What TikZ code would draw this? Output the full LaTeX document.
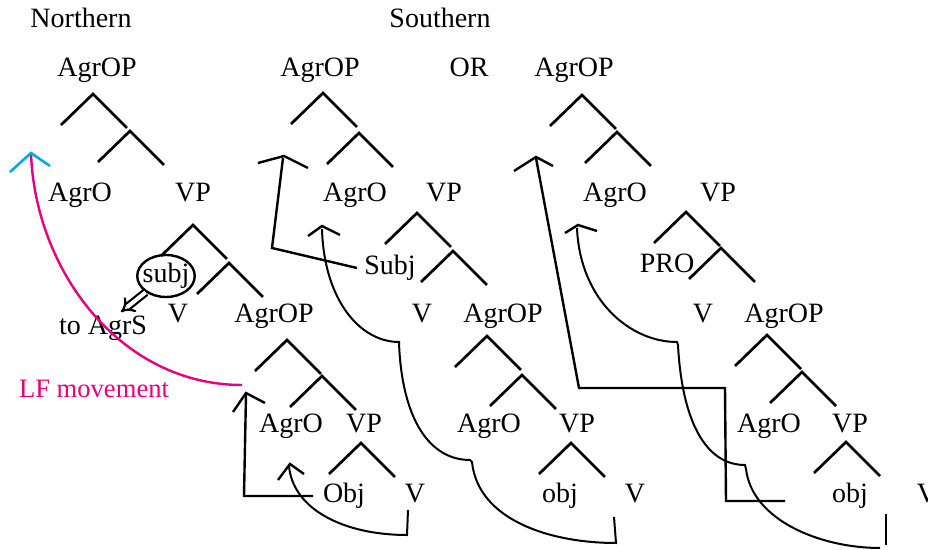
\documentclass[tikz,border=0pt]{standalone}
\usepackage{fontspec}
\setmainfont{Liberation Serif}
\usetikzlibrary{shapes.geometric,arrows.meta}

\definecolor{lfpink}{RGB}{230,0,126}
\definecolor{lfcyan}{RGB}{0,170,230}

\tikzset{
  lbl/.style={anchor=base, inner sep=0pt, font=\fontsize{14}{16}\selectfont},
  branch/.style={line width=1.35pt},
  mv/.style={line width=1.2pt},
  arc/.style={line width=1pt},
}

\begin{document}
\begin{tikzpicture}[x=0.5pt, y=-0.5pt]
    \useasboundingbox (0,0) rectangle (928,550);

    % Judul
    \node[lbl] (north) at (81,28) {Northern};
    \node[lbl] (south) at (440,28) {Southern};
    \node[lbl] (or) at (469,77) {OR};

    % Cabang pohon (puncak, kaki kiri, kaki kanan)
    \foreach \x/\y in {93/94, 130/131, 193/225, 229/263, 287/340, 322/376, 361/443,
                       323/93, 359/133, 417/213, 453/251, 487/336, 522/375, 571/443,
                       582/95, 617/132, 686/212, 721/248, 767/335, 802/372, 846/442} {
        \draw[branch] (\x-32,\y+31) -- (\x,\y) -- (\x+34,\y+34);
    }

    % Pohon utara
    \node[lbl] (agrop1) at (97,77) {AgrOP};
    \node[lbl] (agro1) at (80,202) {AgrO};
    \node[lbl] (vp1) at (193,202) {VP};
    \node[lbl, anchor=center, draw, ellipse, line width=1.2pt, inner sep=-1.5pt,
          minimum height=21pt] (subj1) at (166,276) {subj};
    \node[lbl] (toagrs) at (103,335) {to AgrS};
    \node[lbl] (v1) at (178,323) {V};
    \node[lbl] (agrop1b) at (274,323) {AgrOP};
    \node[lbl] (agro1b) at (291,433) {AgrO};
    \node[lbl] (vp1b) at (364,433) {VP};
    \node[lbl] (obj1) at (344,503) {Obj};
    \node[lbl] (v1b) at (415,503) {V};

    % Pohon selatan (kiri)
    \node[lbl] (agrop2) at (320,77) {AgrOP};
    \node[lbl] (agro2) at (355,202) {AgrO};
    \node[lbl] (vp2) at (444,202) {VP};
    \node[lbl] (subj2) at (390,275) {Subj};
    \node[lbl] (v2) at (422,323) {V};
    \node[lbl] (agrop2b) at (503,323) {AgrOP};
    \node[lbl] (agro2b) at (489,433) {AgrO};
    \node[lbl] (vp2b) at (577,433) {VP};
    \node[lbl] (obj2) at (560,503) {obj};
    \node[lbl] (v2b) at (635,503) {V};

    % Pohon selatan (kanan)
    \node[lbl] (agrop3) at (574,77) {AgrOP};
    \node[lbl] (agro3) at (615,202) {AgrO};
    \node[lbl] (vp3) at (718,202) {VP};
    \node[lbl] (pro3) at (667,273) {PRO};
    \node[lbl] (v3) at (703,323) {V};
    \node[lbl] (agrop3b) at (784,323) {AgrOP};
    \node[lbl] (agro3b) at (769,433) {AgrO};
    \node[lbl] (vp3b) at (850,433) {VP};
    \node[lbl] (obj3) at (850,503) {obj};
    \node[lbl] (v3b) at (927,503) {V};

    % Gerakan subj ke AgrS
    \coordinate (agrs) at (121,312);
    \draw[double, double distance=2pt, line width=1.1pt, -{Implies[scale=1.3]}] (subj1) -- (agrs);

    % Gerakan LF
    \draw[lfpink, line width=1.2pt] (242,385) .. controls (120,385) and (35,270) .. (31,153);
    \draw[lfcyan, line width=1.3pt] (10,172) -- (31,153) -- (50,166);
    \node[lbl, text=lfpink, font=\fontsize{13.3}{16}\selectfont] (lf) at (94,398) {LF movement};

    % Gerakan Obj (utara)
    \draw[mv] (313,496) -- (244,496) -- (246,394);
    \draw[mv] (233,412) -- (246,393) -- (265,403);
    \draw[arc] (408,510) -- (407,535) .. controls (345,535) and (293,510) .. (289,466);
    \draw[mv] (278,480) -- (290,464) -- (304,474);

    % Gerakan Subj (selatan kiri)
    \draw[mv] (357,268) -- (272,248) -- (283,158);
    \draw[mv] (258,163) -- (284,156) -- (308,168);
    \draw[arc] (614,517) -- (616,543) .. controls (550,543) and (478,520) .. (472,462)
        -- (470,460) .. controls (430,460) and (402,420) .. (399,343)
        -- (399,342) .. controls (360,342) and (324,300) .. (322,229);
    \draw[mv] (308,236) -- (322,226) -- (340,235);

    % Gerakan obj (selatan kanan)
    \draw[mv] (785,501) -- (726,501) -- (725,388) -- (579,388) -- (536,158);
    \draw[mv] (514,171) -- (536,157) -- (553,166);
    \draw[arc] (886,514) -- (886,545);
    \draw[arc] (880,548) .. controls (820,548) and (752,520) .. (746,469)
        -- (745,465) .. controls (705,465) and (682,420) .. (678,345)
        -- (677,342) .. controls (630,342) and (580,300) .. (577,228);
    \draw[mv] (565,233) -- (578,225) -- (597,231);

\end{tikzpicture}
\end{document}
